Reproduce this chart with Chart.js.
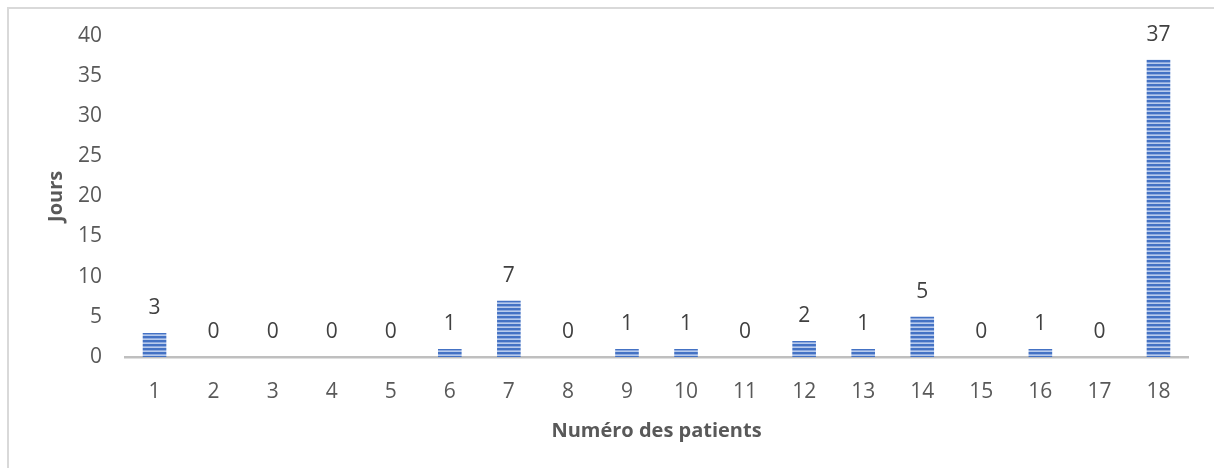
<!DOCTYPE html>
<html>
<head>
<meta charset="utf-8">
<script src="https://cdn.jsdelivr.net/npm/chart.js@4"></script>
<style>
    html, body { margin: 0; padding: 0; background: #fff; }
    #frame { position: absolute; left: 7px; top: 7px; width: 1220px; height: 480px; border-left: 2px solid #d9d9d9; border-top: 2px solid #d9d9d9; }
    #wrap { position: absolute; left: 0; top: 0; width: 1214px; height: 468px; }
</style>
</head>
<body>
<div id="frame"></div>
<div id="wrap"><canvas id="daysChart"></canvas></div>
<script>
// Patients numbers and days
var patients = ['1', '2', '3', '4', '5', '6', '7', '8', '9', '10', '11', '12', '13', '14', '15', '16', '17', '18'];
var days = [3, 0, 0, 0, 0, 1, 7, 0, 1, 1, 0, 2, 1, 5, 0, 1, 0, 37];
var yTicks = [0, 5, 10, 15, 20, 25, 30, 35, 40];

// Horizontal stripes pattern for the bars
function makeStripes() {
    var c = document.createElement('canvas');
    c.width = 4;
    c.height = 4;
    var g = c.getContext('2d');
    g.fillStyle = '#4472c4';
    g.fillRect(0, 0, 4, 2);
    g.fillStyle = '#8eaadf';
    g.fillRect(0, 2, 4, 1);
    g.fillStyle = '#b8cbec';
    g.fillRect(0, 3, 4, 1);
    return g.createPattern(c, 'repeat');
}

// Write the value above each bar
var barLabels = {
    id: 'barLabels',
    afterDatasetsDraw: function(chart) {
        var ctx = chart.ctx;
        var meta = chart.getDatasetMeta(0);
        ctx.save();
        ctx.font = '21px "Open Sans"';
        ctx.fillStyle = '#404040';
        ctx.textAlign = 'center';
        ctx.textBaseline = 'middle';
        meta.data.forEach(function(bar, i) {
            ctx.fillText(days[i], bar.x, bar.y - 25);
        });
        ctx.restore();
    }
};

const ctx = document.getElementById('daysChart').getContext('2d');
const mainChart = new Chart(ctx, {
    type: 'bar',
    data: {
        labels: patients,
        datasets: [{
            data: days,
            backgroundColor: makeStripes(),
            borderWidth: 0,
            categoryPercentage: 1,
            barPercentage: 0.4
        }]
    },
    options: {
        responsive: true,
        maintainAspectRatio: false,
        animation: false,
        layout: {
            padding: { left: 38, right: 26, top: 35, bottom: 20 }
        },
        plugins: {
            legend: { display: false },
            tooltip: { enabled: false }
        },
        scales: {
            x: {
                grid: { display: false, drawTicks: false },
                border: { display: true, color: '#bfbfbf', width: 2.5 },
                ticks: {
                    color: '#595959',
                    padding: 22,
                    font: { family: 'Open Sans', size: 21 }
                },
                title: {
                    display: true,
                    text: 'Numéro des patients',
                    color: '#595959',
                    padding: { top: 0, bottom: 5 },
                    font: { family: 'Open Sans', size: 20, weight: 'bold' }
                },
                afterFit: function(scale) { scale.height = 468 - 20 - 357; }
            },
            y: {
                min: 0,
                max: 40,
                grid: { display: false, drawTicks: false },
                border: { display: false },
                afterBuildTicks: function(scale) {
                    scale.ticks = yTicks.map(function(v) { return { value: v }; });
                },
                ticks: {
                    color: '#595959',
                    padding: 23,
                    font: { family: 'Open Sans', size: 21 }
                },
                title: {
                    display: true,
                    text: 'Jours',
                    color: '#595959',
                    padding: { top: 6, bottom: 0 },
                    font: { family: 'Open Sans', size: 20, weight: 'bold' }
                },
                afterFit: function(scale) { scale.width = 125 - 38; }
            }
        }
    },
    plugins: [barLabels]
});
</script>
</body>
</html>
